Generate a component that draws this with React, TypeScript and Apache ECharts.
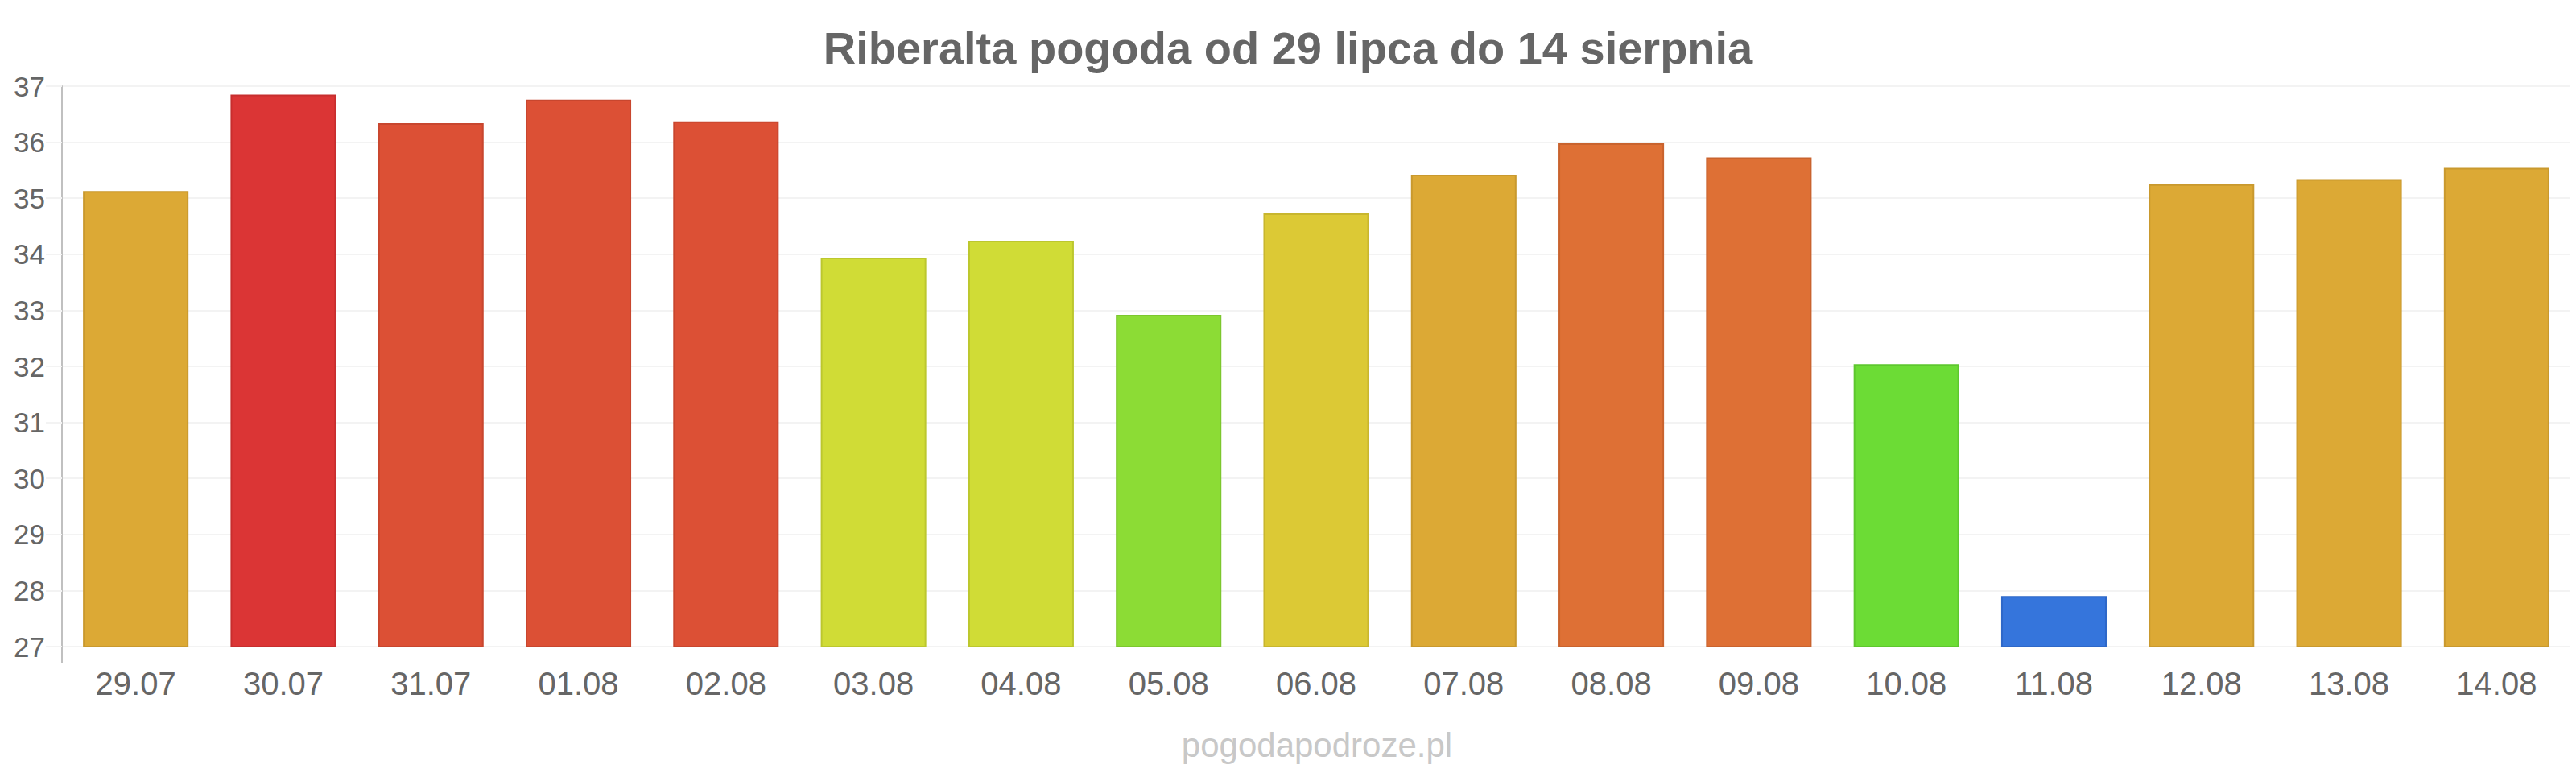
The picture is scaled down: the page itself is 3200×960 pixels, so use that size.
import React, { useEffect, useRef } from "react";
import * as echarts from "echarts";

const categories = ["29.07", "30.07", "31.07", "01.08", "02.08", "03.08", "04.08", "05.08", "06.08", "07.08", "08.08", "09.08", "10.08", "11.08", "12.08", "13.08", "14.08"];
const temps = [35.13, 36.85, 36.34, 36.76, 36.37, 33.94, 34.24, 32.92, 34.73, 35.42, 35.98, 35.73, 32.04, 27.9, 35.25, 35.34, 35.54];
const barColors = ["#DCA935", "#DB3535", "#DC5035", "#DC5035", "#DC5035", "#D0DC36", "#D0DC36", "#8CDC35", "#DCC935", "#DCA935", "#DE7035", "#DE7035", "#6CDC35", "#3575DC", "#DCA935", "#DCA935", "#DCA935"];
const barBorders = ["#C9992E", "#C72E2E", "#C8462E", "#C8462E", "#C8462E", "#BCC72E", "#BCC72E", "#7CC72E", "#C8B62E", "#C9992E", "#C9632E", "#C9632E", "#5EC72E", "#2E68C8", "#C9992E", "#C9992E", "#C9992E"];
const titleText = "Riberalta pogoda od 29 lipca do 14 sierpnia";
const footerText = "pogodapodroze.pl";

const FONT = "'Liberation Sans', Arial, sans-serif";

export default function App() {
  const ref = useRef<HTMLDivElement>(null);
  useEffect(() => {
    document.body.style.margin = "0";
    if (!ref.current) return;
    const chart = echarts.init(ref.current, null, { renderer: "svg" });
    chart.setOption({
      animation: false,
      backgroundColor: "#ffffff",
      title: {
        text: titleText,
        left: "center",
        top: 26,
        textStyle: { fontFamily: FONT, fontSize: 56, fontWeight: "bold", color: "#666666", lineHeight: 56 },
      },
      grid: { left: 77, right: 7, top: 107, bottom: 157, containLabel: false },
      xAxis: {
        type: "category",
        data: categories,
        axisLine: { show: false },
        axisTick: { show: false },
        axisLabel: { fontFamily: FONT, fontSize: 40, color: "#666666", margin: 26, lineHeight: 40 },
        splitLine: { show: false },
      },
      yAxis: {
        type: "value",
        min: 27,
        max: 37,
        interval: 1,
        axisLine: { show: true, lineStyle: { color: "#c0c0c0", width: 2 } },
        axisTick: { show: true, length: 20, lineStyle: { color: "#f3f3f3", width: 2 } },
        axisLabel: { fontFamily: FONT, fontSize: 35, color: "#666666", margin: 21 },
        splitLine: { show: true, lineStyle: { color: "#f3f3f3", width: 2 } },
      },
      series: [
        {
          type: "bar",
          data: temps.map((v, i) => ({
            value: v,
            itemStyle: { color: barColors[i], borderColor: barBorders[i], borderWidth: 2 },
          })),
          barCategoryGap: "28.5%",
        },
      ],
      graphic: [
        {
          type: "line",
          shape: { x1: 77, y1: 803, x2: 77, y2: 823 },
          style: { stroke: "#c0c0c0", lineWidth: 2 },
        },
        {
          type: "text",
          x: 1636,
          y: 925,
          style: {
            text: footerText,
            fontFamily: FONT,
            fontSize: 42,
            fill: "#c8c8c8",
            textAlign: "center",
            textVerticalAlign: "middle",
          },
        },
      ],
    });
    return () => chart.dispose();
  }, []);
  return <div ref={ref} style={{ width: 3200, height: 960 }} />;
}
